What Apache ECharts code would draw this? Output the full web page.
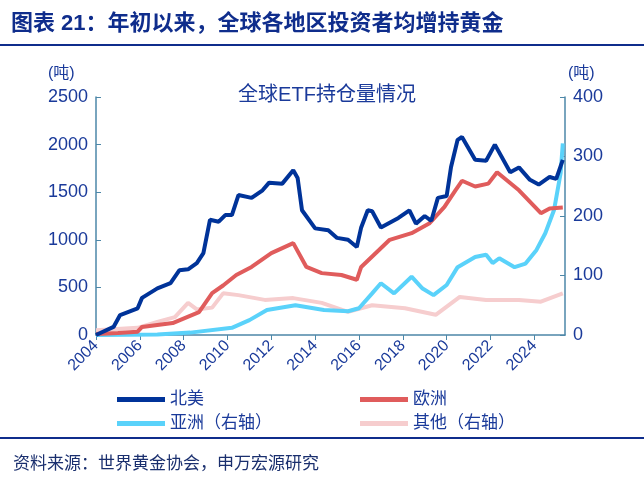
<!DOCTYPE html>
<html>
<head>
<meta charset="utf-8">
<script src="https://cdn.jsdelivr.net/npm/echarts@6/dist/echarts.min.js"></script>
<style>
  body { margin: 0; background: #fff; }
  #main { width: 644px; height: 482px; }
</style>
</head>
<body>
<div id="main"></div>
<script>
// 北美（左轴）
const naYears = [2004.0, 2004.8, 2005.1, 2005.9, 2006.1, 2006.8, 2007.4, 2007.8, 2008.2, 2008.6, 2008.9, 2009.2, 2009.6, 2009.9, 2010.2, 2010.5, 2011.1, 2011.6, 2011.9, 2012.5, 2013.0, 2013.2, 2013.4, 2014.0, 2014.6, 2015.0, 2015.5, 2015.9, 2016.1, 2016.4, 2016.6, 2017.0, 2017.4, 2017.8, 2018.3, 2018.6, 2019.0, 2019.3, 2019.6, 2020.0, 2020.2, 2020.5, 2020.7, 2021.3, 2021.8, 2022.2, 2022.9, 2023.3, 2023.8, 2024.2, 2024.7, 2025.0, 2025.3]
const naValues = [0, 85, 210, 280, 390, 490, 545, 680, 690, 755, 860, 1210, 1190, 1260, 1260, 1470, 1440, 1520, 1600, 1590, 1730, 1650, 1310, 1120, 1100, 1020, 1000, 925, 1130, 1310, 1300, 1130, 1180, 1230, 1310, 1170, 1250, 1200, 1440, 1460, 1765, 2050, 2080, 1840, 1830, 2000, 1710, 1760, 1630, 1580, 1660, 1640, 1840]
// 欧洲（左轴）
const euYears = [2004.0, 2005.0, 2005.9, 2006.1, 2007.5, 2008.7, 2009.3, 2009.8, 2010.4, 2011.1, 2012.0, 2013.0, 2013.6, 2014.3, 2015.2, 2015.9, 2016.1, 2016.9, 2017.4, 2018.4, 2019.2, 2019.9, 2020.4, 2020.7, 2021.3, 2021.9, 2022.3, 2023.3, 2024.3, 2024.7, 2025.3]
const euValues = [10, 20, 35, 85, 125, 240, 440, 520, 630, 715, 860, 965, 715, 650, 630, 580, 715, 890, 1000, 1070, 1170, 1345, 1520, 1620, 1560, 1590, 1710, 1520, 1280, 1330, 1340]
// 亚洲（右轴）
const asYears = [2004.0, 2006.8, 2008.3, 2010.2, 2011.0, 2011.8, 2013.1, 2014.4, 2015.5, 2016.0, 2016.6, 2017.0, 2017.6, 2018.4, 2018.9, 2019.4, 2020.0, 2020.5, 2021.3, 2021.8, 2022.1, 2022.4, 2023.1, 2023.6, 2024.1, 2024.5, 2024.9, 2025.2, 2025.3]
const asValues = [0, 1, 4, 12, 25, 42, 50, 42, 40, 45, 70, 87, 70, 98, 78, 67, 84, 114, 131, 135, 121, 129, 114, 120, 143, 171, 210, 272, 322]
// 其他（右轴）
const otYears = [2004.0, 2005.9, 2006.8, 2007.6, 2008.2, 2008.6, 2009.3, 2009.8, 2010.5, 2011.7, 2013.0, 2014.3, 2015.5, 2016.6, 2018.1, 2019.5, 2020.6, 2021.8, 2023.3, 2024.3, 2025.3]
const otValues = [8, 12, 22, 30, 54, 43, 46, 70, 67, 59, 62, 54, 39, 50, 45, 34, 64, 59, 59, 56, 70]

const zip = (xs, ys) => xs.map((x, i) => [x, ys[i]])
const navy = '#1a3a9a'
const font = 'Liberation Sans, Noto Sans CJK SC'
const axisLine = { lineStyle: { color: '#4d87a8', width: 1.5 } }

const chart = echarts.init(document.getElementById('main'))
chart.setOption({
  animation: false,
  textStyle: { fontFamily: font },
  title: [
    { text: '图表 21：年初以来，全球各地区投资者均增持黄金', left: 6, top: 8,
      textStyle: { color: '#0f2d8c', fontSize: 22, fontWeight: 'bold', fontFamily: font } },
    { text: '全球ETF持仓量情况', left: 322, top: 80, textAlign: 'center',
      textStyle: { color: navy, fontSize: 20, fontWeight: 'normal', fontFamily: font } },
    { text: '资料来源：世界黄金协会，申万宏源研究', left: 8, top: 451,
      textStyle: { color: '#1a2f6e', fontSize: 17, fontWeight: 'normal', fontFamily: font } }
  ],
  graphic: [
    { type: 'line', shape: { x1: 0, y1: 45, x2: 644, y2: 45 }, style: { stroke: '#0f2d8c', lineWidth: 2 } },
    { type: 'line', shape: { x1: 0, y1: 438, x2: 644, y2: 438 }, style: { stroke: '#0f2d8c', lineWidth: 2 } },
    { type: 'text', left: 48, top: 66, style: { text: '(吨)', fill: navy, font: '16px Liberation Sans, Noto Sans CJK SC' } },
    { type: 'text', left: 568, top: 66, style: { text: '(吨)', fill: navy, font: '16px Liberation Sans, Noto Sans CJK SC' } }
  ],
  legend: [
    { data: ['北美'], left: 112, top: 386 },
    { data: ['欧洲'], left: 355, top: 386 },
    { data: ['亚洲（右轴）'], left: 112, top: 410 },
    { data: ['其他（右轴）'], left: 355, top: 410 }
  ].map(l => Object.assign(l, {
    itemWidth: 48, itemHeight: 5, icon: 'rect', itemGap: 4,
    textStyle: { color: navy, fontSize: 17, fontFamily: font }
  })),
  grid: { left: 96, right: 79, top: 97, bottom: 147 },
  xAxis: {
    type: 'value', min: 2004, max: 2025.4, interval: 2,
    axisLine, axisTick: { show: true, lineStyle: { color: '#4d87a8' } },
    splitLine: { show: false },
    axisLabel: { color: navy, fontSize: 16, rotate: 45, showMaxLabel: false, formatter: v => String(v) }
  },
  yAxis: [
    { type: 'value', min: 0, max: 2500, interval: 500, axisLine: Object.assign({ show: true }, axisLine),
      axisTick: { show: true, inside: true, lineStyle: { color: '#4d87a8' } }, splitLine: { show: false },
      axisLabel: { color: navy, fontSize: 18, formatter: v => String(v) } },
    { type: 'value', min: 0, max: 400, interval: 100, axisLine: Object.assign({ show: true }, axisLine),
      axisTick: { show: true, inside: true, lineStyle: { color: '#4d87a8' } }, splitLine: { show: false },
      axisLabel: { color: navy, fontSize: 18, formatter: v => String(v) } }
  ],
  series: [
    { name: '其他（右轴）', data: zip(otYears, otValues), yAxisIndex: 1, color: '#f6cdce' },
    { name: '亚洲（右轴）', data: zip(asYears, asValues), yAxisIndex: 1, color: '#5ad2fa' },
    { name: '欧洲', data: zip(euYears, euValues), color: '#e05c5c' },
    { name: '北美', data: zip(naYears, naValues), color: '#003399' }
  ].map(s => Object.assign(s, { type: 'line', showSymbol: false, lineStyle: { width: 4 } }))
})
</script>
</body>
</html>
